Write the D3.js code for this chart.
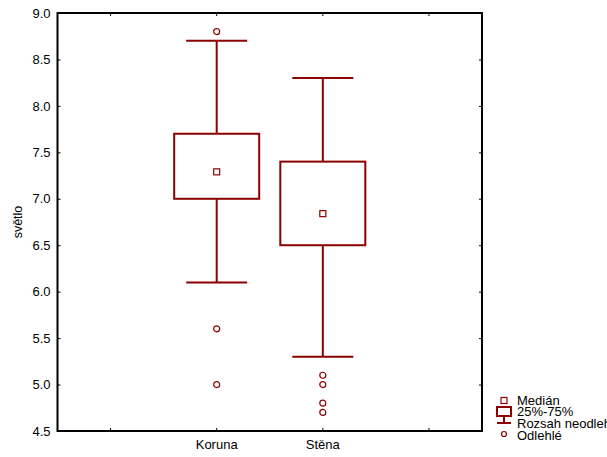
<!DOCTYPE html>
<html>
<head>
<meta charset="utf-8">
<script src="https://cdn.jsdelivr.net/npm/d3@7"></script>
<style>
 body { margin:0; background:#fff; }
 text { font-family: "Liberation Sans", Arial, sans-serif; }
</style>
</head>
<body>
<script>
// x slots: two empty slots around the two groups (ticks at all four)
var slots = ["a", "Koruna", "Stěna", "b"];
var groups = ["Koruna", "Stěna"];
var medians = [7.29, 6.84];
var q1 = [7.0, 6.5];
var q3 = [7.7, 7.4];
var whiskLo = [6.1, 5.3];
var whiskHi = [8.7, 8.3];
var outliers = [[8.8, 5.6, 5.0], [5.1, 5.0, 4.8, 4.7]];
var yTicks = [4.5, 5.0, 5.5, 6.0, 6.5, 7.0, 7.5, 8.0, 8.5, 9.0];
var legendItems = ["Medián", "25%-75%", "Rozsah neodlehlých", "Odlehlé"];

var col = "#8b0000";
var W = 607, H = 457;
var pLeft = 57.5, pRight = 482, pTop = 13, pBottom = 431;

var svg = d3.select("body").append("svg").attr("width", W).attr("height", H);

var x = d3.scaleBand().domain(slots).range([pLeft, pRight]);
var y = d3.scaleLinear().domain([4.5, 9.0]).range([pBottom, pTop]);
var bw = 85, cw = 61;

// y axis ticks + labels
var ya = svg.append("g").attr("transform", "translate(" + pLeft + ",0)")
 .call(d3.axisRight(y).tickValues(yTicks).tickSize(3).tickFormat(d3.format(".1f")));
ya.select(".domain").remove();
ya.selectAll("line").attr("stroke", "#000");
ya.selectAll("text").attr("x", -7).attr("text-anchor", "end").attr("font-size", 13).attr("fill", "#000")
 .attr("font-family", "Liberation Sans, Arial, sans-serif");

var yr = svg.append("g").attr("transform", "translate(" + pRight + ",0)")
 .call(d3.axisLeft(y).tickValues(yTicks).tickSize(3).tickFormat(""));
yr.select(".domain").remove();

// x ticks bottom & top
var xb = svg.append("g").attr("transform", "translate(0," + pBottom + ")")
 .call(d3.axisTop(x).tickSize(3).tickFormat(""));
xb.select(".domain").remove();
var xt = svg.append("g").attr("transform", "translate(0," + pTop + ")")
 .call(d3.axisBottom(x).tickSize(3).tickFormat(""));
xt.select(".domain").remove();

svg.selectAll(".xlab").data(groups).enter().append("text")
 .attr("x", function(d) { return x(d) + x.bandwidth() / 2; })
 .attr("y", pBottom + 18).attr("text-anchor", "middle").attr("font-size", 13).text(function(d) { return d; });

svg.append("text").attr("transform", "translate(22," + ((pTop + pBottom) / 2) + ") rotate(-90)")
 .attr("text-anchor", "middle").attr("font-size", 12.5).text("světlo");

// frame
svg.append("rect").attr("x", pLeft).attr("y", pTop).attr("width", pRight - pLeft).attr("height", pBottom - pTop)
 .attr("fill", "none").attr("stroke", "#000").attr("stroke-width", 2);

// boxes
var g = svg.selectAll(".box").data(groups).enter().append("g")
 .attr("transform", function(d) { return "translate(" + (x(d) + x.bandwidth() / 2) + ",0)"; });

g.append("line").attr("x1", 0).attr("x2", 0)
 .attr("y1", function(d, i) { return y(whiskHi[i]); }).attr("y2", function(d, i) { return y(q3[i]); })
 .attr("stroke", col).attr("stroke-width", 2);
g.append("line").attr("x1", 0).attr("x2", 0)
 .attr("y1", function(d, i) { return y(q1[i]); }).attr("y2", function(d, i) { return y(whiskLo[i]); })
 .attr("stroke", col).attr("stroke-width", 2);
g.append("line").attr("x1", -cw / 2).attr("x2", cw / 2)
 .attr("y1", function(d, i) { return y(whiskHi[i]); }).attr("y2", function(d, i) { return y(whiskHi[i]); })
 .attr("stroke", col).attr("stroke-width", 2);
g.append("line").attr("x1", -cw / 2).attr("x2", cw / 2)
 .attr("y1", function(d, i) { return y(whiskLo[i]); }).attr("y2", function(d, i) { return y(whiskLo[i]); })
 .attr("stroke", col).attr("stroke-width", 2);
g.append("rect").attr("x", -bw / 2).attr("width", bw)
 .attr("y", function(d, i) { return y(q3[i]); })
 .attr("height", function(d, i) { return y(q1[i]) - y(q3[i]); })
 .attr("fill", "none").attr("stroke", col).attr("stroke-width", 2);
g.append("rect").attr("x", -3).attr("width", 6)
 .attr("y", function(d, i) { return y(medians[i]) - 3; }).attr("height", 6)
 .attr("fill", "none").attr("stroke", col).attr("stroke-width", 1.2);
g.each(function(d, i) {
 d3.select(this).selectAll("circle").data(outliers[i]).enter().append("circle")
  .attr("cx", 0).attr("cy", function(v) { return y(v); }).attr("r", 3)
  .attr("fill", "none").attr("stroke", col).attr("stroke-width", 1.2);
});

// legend
var lg = svg.append("g");
lg.append("rect").attr("x", 501).attr("y", 397.5).attr("width", 6).attr("height", 6)
 .attr("fill", "none").attr("stroke", col).attr("stroke-width", 1.2);
lg.append("rect").attr("x", 497).attr("y", 407).attr("width", 14).attr("height", 9)
 .attr("fill", "none").attr("stroke", col).attr("stroke-width", 2);
lg.append("line").attr("x1", 504).attr("x2", 504).attr("y1", 416).attr("y2", 423).attr("stroke", col).attr("stroke-width", 2);
lg.append("line").attr("x1", 497).attr("x2", 511).attr("y1", 423).attr("y2", 423).attr("stroke", col).attr("stroke-width", 2);
lg.append("circle").attr("cx", 504).attr("cy", 434).attr("r", 2.5)
 .attr("fill", "none").attr("stroke", col).attr("stroke-width", 1.2);
lg.selectAll("text").data(legendItems).enter().append("text")
 .attr("x", 517).attr("y", function(d, i) { return 404.5 + i * 11.7; })
 .attr("font-size", 13).text(function(d) { return d; });
</script>
</body>
</html>
